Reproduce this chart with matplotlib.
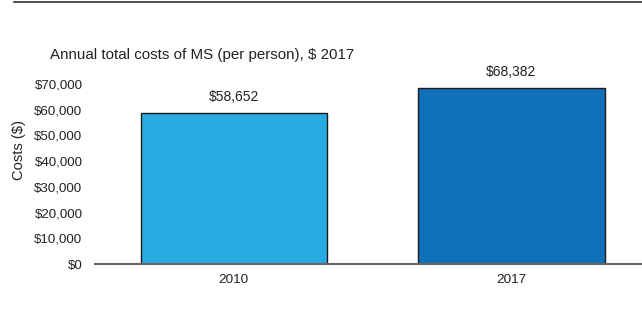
import matplotlib.pyplot as plt
from matplotlib.lines import Line2D

plt.rcParams['font.family'] = ['Liberation Sans', 'DejaVu Sans']

years = ['2010', '2017']
costs = [58652, 68382]
bar_colors = ['#29abe2', '#1170ba']
yticks = [0, 10000, 20000, 30000, 40000, 50000, 60000, 70000]

fig = plt.figure(figsize=(6.42, 3.2), dpi=100)
ax = fig.add_axes([95 / 642, 1 - 264 / 320, 1 - 95 / 642, 180 / 320])

x = range(len(years))
ax.bar(x, costs, width=0.67, color=bar_colors, edgecolor='#1a1a1a', linewidth=1.0, zorder=2)

for xi, v in zip(x, costs):
    ax.text(xi, v + 3600, f'${v:,}', ha='center', va='bottom', fontsize=10, color='#222222')

ax.set_xlim(-0.5, 1.47)
ax.set_ylim(0, 70000)
ax.set_yticks(yticks)
ax.set_yticklabels([f'${t:,}' for t in yticks], fontsize=9.6, color='#222222')
ax.set_xticks(list(x))
ax.set_xticklabels(years, fontsize=9.7, color='#222222')
ax.tick_params(axis='y', length=0, pad=9)
ax.tick_params(axis='x', length=0, pad=7)

for side in ['top', 'right', 'left']:
    ax.spines[side].set_visible(False)
ax.spines['bottom'].set_color('#666666')
ax.spines['bottom'].set_linewidth(1.5)
ax.spines['bottom'].set_zorder(3)

fig.text(19 / 642, 1 - 150 / 320, 'Costs ($)', rotation=90, fontsize=10.6,
         ha='center', va='center', color='#222222')

fig.text(50 / 642, 1 - 55 / 320, 'Annual total costs of MS (per person), $ 2017',
         fontsize=10.9, ha='left', va='center', color='#222222')

# rule across the top of the figure
fig.add_artist(Line2D([14 / 642, 1], [1 - 1.5 / 320, 1 - 1.5 / 320],
                      transform=fig.transFigure, color='#333333', linewidth=1.2))

fig.savefig('out.png', dpi=100)
